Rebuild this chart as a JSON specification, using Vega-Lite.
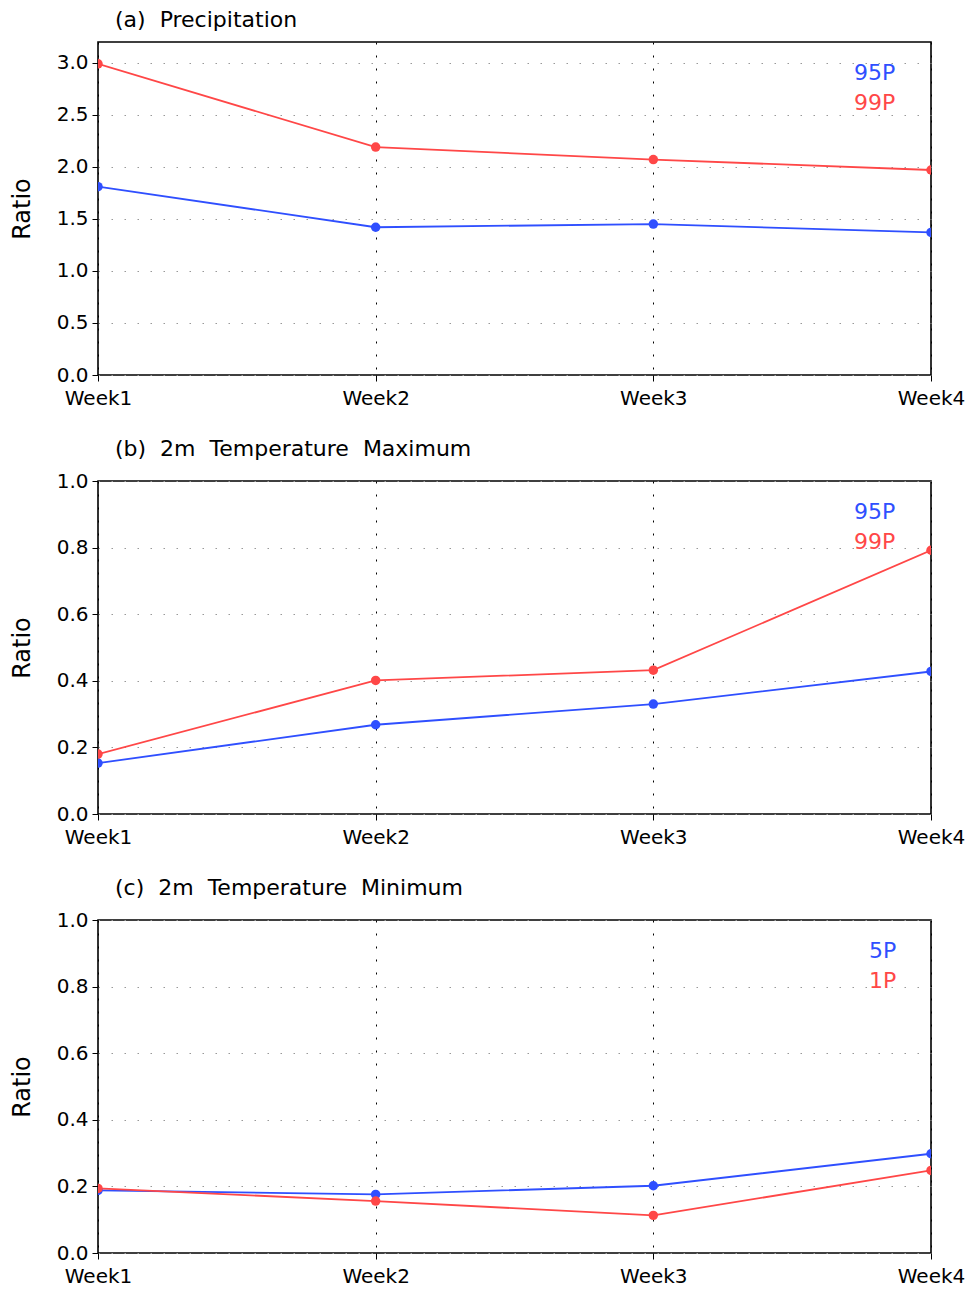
{
  "$schema": "https://vega.github.io/schema/vega-lite/v6.json",
  "background": "white",
  "padding": {"left": 9, "top": 8, "right": 2, "bottom": 5},
  "bounds": "flush",
  "spacing": 106,
  "config": {
    "font": "DejaVu Sans",
    "view": {"stroke": "black", "strokeWidth": 1.6},
    "axis": {
      "labelFont": "DejaVu Sans", "labelFontSize": 20, "labelColor": "black",
      "tickColor": "black", "tickSize": 6, "labelPadding": 4, "domain": false,
      "titleFont": "DejaVu Sans", "titleFontSize": 24, "titleFontWeight": "normal", "titleColor": "black"
    },
    "title": {"font": "DejaVu Sans", "fontSize": 22, "fontWeight": "normal", "anchor": "start", "frame": "group", "dx": 17, "offset": 10, "color": "black"},
    "legend": {"orient": "none", "legendY": 20, "title": null, "symbolSize": 0, "symbolOpacity": 0, "symbolStrokeWidth": 0, "labelFontSize": 22, "labelFont": "DejaVu Sans", "rowPadding": 8, "padding": 0, "labelOffset": 0}
  },
  "resolve": {"scale": {"color": "independent", "y": "independent"}, "legend": {"color": "independent"}},
  "datasets": {
    "prcp": [
      {"week": "Week1", "series": "95P", "ratio": 1.81},
      {"week": "Week2", "series": "95P", "ratio": 1.42},
      {"week": "Week3", "series": "95P", "ratio": 1.45},
      {"week": "Week4", "series": "95P", "ratio": 1.37},
      {"week": "Week1", "series": "99P", "ratio": 2.99},
      {"week": "Week2", "series": "99P", "ratio": 2.19},
      {"week": "Week3", "series": "99P", "ratio": 2.07},
      {"week": "Week4", "series": "99P", "ratio": 1.97}
    ],
    "tmax": [
      {"week": "Week1", "series": "95P", "ratio": 0.153},
      {"week": "Week2", "series": "95P", "ratio": 0.268},
      {"week": "Week3", "series": "95P", "ratio": 0.33},
      {"week": "Week4", "series": "95P", "ratio": 0.428},
      {"week": "Week1", "series": "99P", "ratio": 0.18},
      {"week": "Week2", "series": "99P", "ratio": 0.401},
      {"week": "Week3", "series": "99P", "ratio": 0.432},
      {"week": "Week4", "series": "99P", "ratio": 0.792}
    ],
    "tmin": [
      {"week": "Week1", "series": "5P", "ratio": 0.188},
      {"week": "Week2", "series": "5P", "ratio": 0.176},
      {"week": "Week3", "series": "5P", "ratio": 0.202},
      {"week": "Week4", "series": "5P", "ratio": 0.298},
      {"week": "Week1", "series": "1P", "ratio": 0.194},
      {"week": "Week2", "series": "1P", "ratio": 0.156},
      {"week": "Week3", "series": "1P", "ratio": 0.113},
      {"week": "Week4", "series": "1P", "ratio": 0.248}
    ]
  },
  "vconcat": [
    {
      "width": 833, "height": 333,
      "title": "(a)\u00a0\u00a0Precipitation",
      "data": {"name": "prcp"},
      "encoding": {
        "x": {"field": "week", "type": "ordinal", "scale": {"type": "point", "padding": 0},
              "axis": {"title": null, "labelAngle": 0, "labelPadding": 7, "labelFlush": false, "labelBound": false, "grid": true, "gridColor": "black", "gridDash": [2, 11], "gridWidth": 1}},
        "y": {"field": "ratio", "type": "quantitative", "scale": {"domain": [0, 3.2], "nice": false},
              "axis": {"title": "Ratio", "values": [0, 0.5, 1, 1.5, 2, 2.5, 3], "format": ".1f", "grid": true, "gridColor": "#999999", "gridDash": [1.5, 11.5], "titlePadding": 22}},
        "color": {"field": "series", "type": "nominal", "scale": {"domain": ["95P", "99P"], "range": ["#2f4fff", "#ff4747"]},
                  "legend": {"legendX": 734, "encode": {"labels": {"update": {"fill": {"signal": "datum.index === 0 ? '#2f4fff' : '#ff4747'"}}}}}}
      },
      "layer": [
        {"mark": {"type": "line", "strokeWidth": 1.8, "clip": true}},
        {"mark": {"type": "circle", "size": 90, "opacity": 1, "clip": true}}
      ]
    },
    {
      "width": 833, "height": 333,
      "title": "(b)\u00a0\u00a02m\u00a0\u00a0Temperature\u00a0\u00a0Maximum",
      "data": {"name": "tmax"},
      "encoding": {
        "x": {"field": "week", "type": "ordinal", "scale": {"type": "point", "padding": 0},
              "axis": {"title": null, "labelAngle": 0, "labelPadding": 7, "labelFlush": false, "labelBound": false, "grid": true, "gridColor": "black", "gridDash": [2, 11], "gridWidth": 1}},
        "y": {"field": "ratio", "type": "quantitative", "scale": {"domain": [0, 1], "nice": false},
              "axis": {"title": "Ratio", "values": [0, 0.2, 0.4, 0.6, 0.8, 1], "format": ".1f", "grid": true, "gridColor": "#999999", "gridDash": [1.5, 11.5], "titlePadding": 22}},
        "color": {"field": "series", "type": "nominal", "scale": {"domain": ["95P", "99P"], "range": ["#2f4fff", "#ff4747"]},
                  "legend": {"legendX": 734, "encode": {"labels": {"update": {"fill": {"signal": "datum.index === 0 ? '#2f4fff' : '#ff4747'"}}}}}}
      },
      "layer": [
        {"mark": {"type": "line", "strokeWidth": 1.8, "clip": true}},
        {"mark": {"type": "circle", "size": 90, "opacity": 1, "clip": true}}
      ]
    },
    {
      "width": 833, "height": 333,
      "title": "(c)\u00a0\u00a02m\u00a0\u00a0Temperature\u00a0\u00a0Minimum",
      "data": {"name": "tmin"},
      "encoding": {
        "x": {"field": "week", "type": "ordinal", "scale": {"type": "point", "padding": 0},
              "axis": {"title": null, "labelAngle": 0, "labelPadding": 7, "labelFlush": false, "labelBound": false, "grid": true, "gridColor": "black", "gridDash": [2, 11], "gridWidth": 1}},
        "y": {"field": "ratio", "type": "quantitative", "scale": {"domain": [0, 1], "nice": false},
              "axis": {"title": "Ratio", "values": [0, 0.2, 0.4, 0.6, 0.8, 1], "format": ".1f", "grid": true, "gridColor": "#999999", "gridDash": [1.5, 11.5], "titlePadding": 22}},
        "color": {"field": "series", "type": "nominal", "scale": {"domain": ["5P", "1P"], "range": ["#2f4fff", "#ff4747"]},
                  "legend": {"legendX": 749, "encode": {"labels": {"update": {"fill": {"signal": "datum.index === 0 ? '#2f4fff' : '#ff4747'"}}}}}}
      },
      "layer": [
        {"mark": {"type": "line", "strokeWidth": 1.8, "clip": true}},
        {"mark": {"type": "circle", "size": 90, "opacity": 1, "clip": true}}
      ]
    }
  ]
}
